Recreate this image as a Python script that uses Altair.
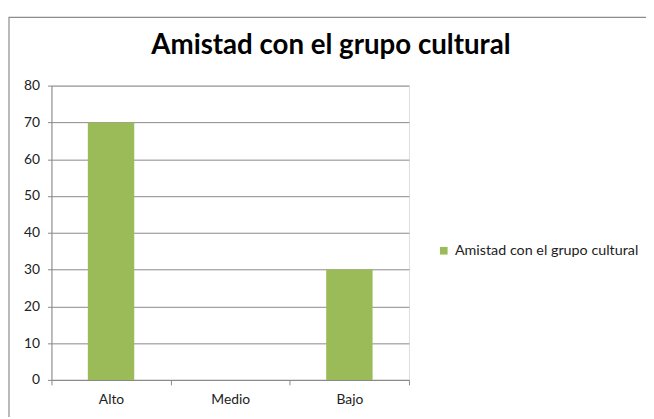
import altair as alt
import pandas as pd

categories = ["Alto", "Medio", "Bajo"]
values = [70, 0, 30]
series = "Amistad con el grupo cultural"

df = pd.DataFrame({"cat": categories, "val": values, "serie": [series] * 3})

FONT = "Lato"

bars = alt.Chart(df).mark_bar(size=47).encode(
    x=alt.X("cat:N", sort=categories, title=None,
            scale=alt.Scale(paddingInner=0, paddingOuter=0),
            axis=alt.Axis(labelAngle=0, tickBand="extent", grid=False,
                          domainColor="#888888", tickColor="#888888",
                          tickSize=5, labelPadding=8, labelFontSize=14,
                          labelColor="#222222", labelFont=FONT)),
    y=alt.Y("val:Q", title=None,
            scale=alt.Scale(domain=[0, 80]),
            axis=alt.Axis(values=list(range(0, 81, 10)), grid=True,
                          gridColor="#888888", domainColor="#888888",
                          tickColor="#888888", tickSize=4, labelPadding=8,
                          labelFontSize=14, labelColor="#222222",
                          labelFont=FONT)),
    color=alt.Color("serie:N", scale=alt.Scale(range=["#9BBB59"]),
                    legend=alt.Legend(title=None, orient="none",
                                      legendX=390, legendY=160,
                                      symbolType="square", symbolSize=60,
                                      symbolStrokeWidth=0,
                                      labelFontSize=14.5, labelFont=FONT,
                                      labelColor="#222222", labelLimit=300)),
)

border = alt.Chart(df).mark_rect(fill=None, stroke="#8c8c8c", strokeWidth=1.2,
                                 clip=False).encode(
    x=alt.value(-43), x2=alt.value(640), y=alt.value(-69), y2=alt.value(360)
)

chart = alt.layer(bars, border.transform_filter("datum.cat == 'Alto'")).properties(
    width=362, height=298,
    padding={"left": 44, "top": 76, "right": 240, "bottom": 35},
    autosize=alt.AutoSizeParams(type="none"),
    title=alt.TitleParams(series, fontSize=28, font=FONT, fontWeight="bold",
                          color="#000000", anchor="middle", frame="group",
                          dx=102, offset=-44),
).configure_view(stroke=None).configure(background="white")

chart.save("out.html", embed_options={"renderer": "svg", "actions": False})
